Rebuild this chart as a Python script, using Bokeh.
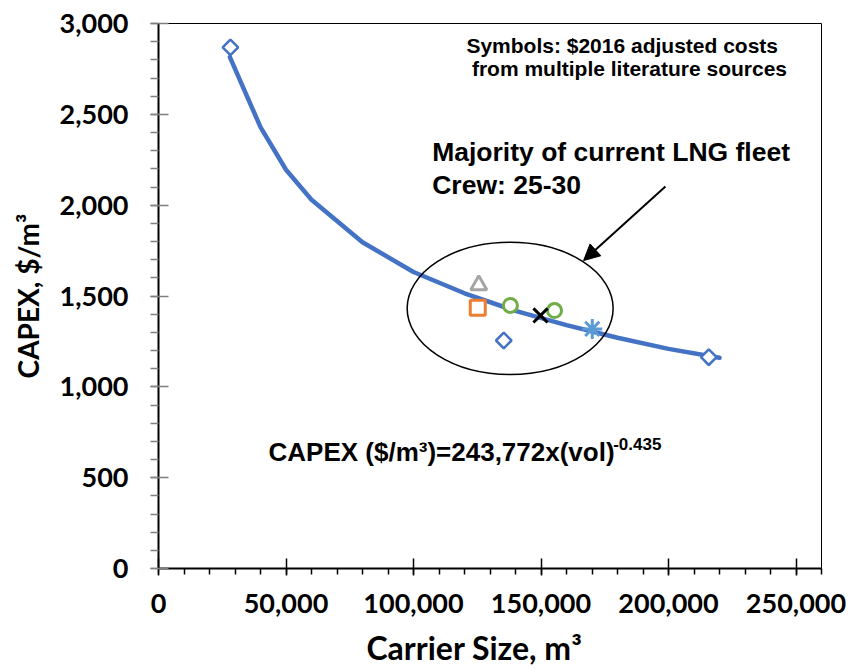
import numpy as np
from bokeh.plotting import figure
from bokeh.models import (Range1d, FixedTicker, NumeralTickFormatter, Label, Arrow, NormalHead)
from bokeh.embed import file_html
from bokeh.resources import INLINE

# ---- data ----
# fitted power curve CAPEX vs carrier size
curve_x = [28000, 40000, 50000, 60000, 80000, 100000, 120000, 140000, 160000, 180000, 200000, 220000]
curve_y = [2815, 2430, 2195, 2030, 1796, 1632, 1515, 1418, 1340, 1270, 1209, 1160]

# literature sources (symbols)
diamond_x = [28200, 135400, 215800]
diamond_y = [2869, 1255, 1163]
square_x = [125200]
square_y = [1435]
triangle_x = [125600]
triangle_y = [1560]
circle_x = [138000, 155300]
circle_y = [1448, 1420]
cross_x = [149800]
cross_y = [1393]
star_x = [170100]
star_y = [1319]

x_ticks = [0, 50000, 100000, 150000, 200000, 250000]
y_ticks = [0, 500, 1000, 1500, 2000, 2500, 3000]

BLUE = "#4472C4"
NB = "\u00a0"

p = figure(width=860, height=670, output_backend="svg", toolbar_location=None,
           x_range=Range1d(0, 260000), y_range=Range1d(0, 3000),
           min_border_left=158, min_border_right=39, min_border_top=23, min_border_bottom=102)
p.background_fill_color = "white"
p.border_fill_color = "white"
p.outline_line_color = "black"
p.outline_line_width = 1
p.xgrid.visible = False
p.ygrid.visible = False

p.xaxis.ticker = FixedTicker(ticks=x_ticks, minor_ticks=list(range(0, 260001, 10000)))
p.yaxis.ticker = FixedTicker(ticks=y_ticks, minor_ticks=list(range(0, 3001, 100)))
p.xaxis.formatter = NumeralTickFormatter(format="0,0")
p.yaxis.formatter = NumeralTickFormatter(format="0,0")

for ax in (p.xaxis, p.yaxis):
    ax.axis_line_color = "black"
    ax.axis_line_width = 2
    ax.major_label_text_font = "Lato"
    ax.major_label_text_font_style = "bold"
    ax.major_label_text_font_size = "27px"
    ax.major_label_text_color = "black"
    ax.axis_label_text_font = "Lato"
    ax.axis_label_text_font_style = "bold"
    ax.axis_label_text_color = "black"
    ax.major_tick_line_width = 1.5
    ax.minor_tick_line_width = 1.5

p.xaxis.major_tick_in = 10
p.xaxis.major_tick_out = 7
p.xaxis.minor_tick_in = 0
p.xaxis.minor_tick_out = 6
p.xaxis.major_tick_line_color = "black"
p.xaxis.minor_tick_line_color = "black"
p.xaxis.major_label_standoff = 18
p.xaxis.axis_label = "Carrier Size, m³" + NB * 4
p.xaxis.axis_label_text_font_size = "32px"
p.xaxis.axis_label_standoff = 12

p.yaxis.major_tick_in = 10
p.yaxis.major_tick_out = 8
p.yaxis.minor_tick_in = 0
p.yaxis.minor_tick_out = 8
p.yaxis.major_tick_line_color = "#7f7f7f"
p.yaxis.minor_tick_line_color = "#7f7f7f"
p.yaxis.major_label_standoff = 22
p.yaxis.axis_label = "CAPEX, $/m³"
p.yaxis.axis_label_text_font_size = "28px"
p.yaxis.axis_label_standoff = 12

# fitted curve
p.line(curve_x, curve_y, line_color=BLUE, line_width=4.5, line_cap="round", line_join="round")

# ellipse around current fleet
p.ellipse(x=137900, y=1432, width=80780, height=728, fill_color=None,
          line_color="black", line_width=1.5)

# symbols
p.scatter(diamond_x, diamond_y, marker="square", angle=np.pi / 4, size=11,
          line_color=BLUE, line_width=2.5, fill_color="white")
p.scatter(square_x, square_y, marker="square", size=15,
          line_color="#ED7D31", line_width=3, fill_color="white")
p.scatter(triangle_x, triangle_y, marker="triangle", size=16,
          line_color="#A5A5A5", line_width=3, fill_color="white")
p.scatter(circle_x, circle_y, marker="circle", size=14,
          line_color="#70AD47", line_width=3, fill_color="white")
p.scatter(cross_x, cross_y, marker="x", size=20,
          line_color="black", line_width=3)
p.scatter(star_x, star_y, marker="asterisk", size=20,
          line_color="#5B9BD5", line_width=3)

# arrow
p.add_layout(Arrow(end=NormalHead(size=16, fill_color="black", line_color="black"),
                   x_start=198800, y_start=2103, x_end=166700, y_end=1695,
                   line_color="black", line_width=2))

def lab(x, y, text, size, align="left", font="Liberation Sans", **kw):
    p.add_layout(Label(x=x, y=y, text=text, text_font=font, text_font_style="bold",
                       text_font_size=size, text_align=align, text_baseline="alphabetic",
                       text_color="black", **kw))

lab(181840, 2878, "Symbols: $2016 adjusted costs", "21px", "center")
lab(184700, 2753, "from multiple literature sources", "21px", "center")
lab(107330, 2290, "Majority of current LNG fleet", "26.5px")
lab(107330, 2111, "Crew: 25-30", "26.5px")
lab(43140, 642, "CAPEX ($/m³)=243,772x(vol)", "26px")
lab(178300, 683, "-0.435", "17px")
# stray tick label at the lower-left corner of the reference
lab(7.5, 610, "0", "27px", "center", "Lato", x_units="canvas", y_units="canvas", level="overlay")

open("out.html", "w").write(file_html(p, INLINE))
